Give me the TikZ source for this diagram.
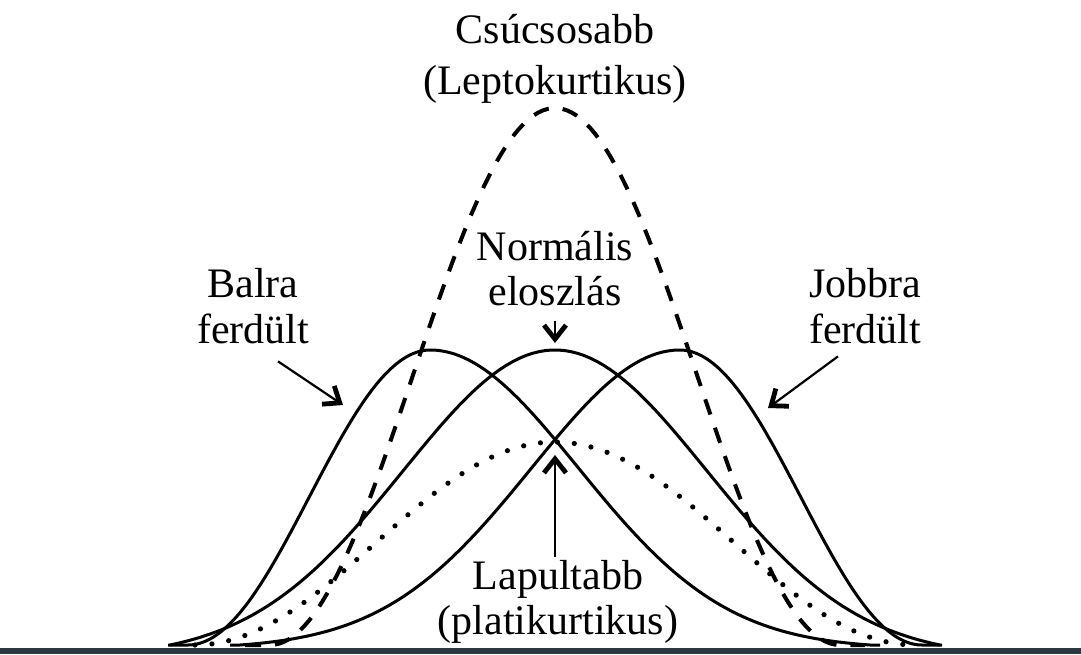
\documentclass[tikz,border=0pt]{standalone}
\usepackage{fontspec}
\setmainfont{Liberation Serif}
\usetikzlibrary{arrows.meta}
\definecolor{barcol}{RGB}{45,55,65}
\begin{document}
\begin{tikzpicture}[x=0.5pt,y=-0.5pt,
  declare function={
    cosb(\dd,\ww)=0.5*(1+cos(180*(\dd/\ww)));
    gs(\dd,\ss,\tt)=(exp(-0.5*(\dd/\ss)*(\dd/\ss))-exp(-0.5*(\tt/\ss)*(\tt/\ss)))/(1-exp(-0.5*(\tt/\ss)*(\tt/\ss)));
  },
  curve/.style={line width=1.5pt, line join=round},
  lepto/.style={line width=2pt, dash pattern=on 8pt off 7pt},
  platy/.style={line width=2.6pt, line cap=round, dash pattern=on 0pt off 8.5pt},
  lbl/.style={font=\fontsize{21}{23}\selectfont, align=center, inner sep=0pt, anchor=north},
  arr/.style={line width=1.1pt, -{Straight Barb[length=7pt,width=11pt,line width=2.4pt]}}
]
\useasboundingbox (0,0) rectangle (1081,654);
\fill[white] (0,0) rectangle (1081,654);
\fill[barcol] (0,648) rectangle (1081,654);

% curves
\draw[curve] (168,645) -- plot[domain=188:430,samples=60] (\x,{645-295*cosb(\x-430,242)})
  -- plot[domain=430:870,samples=80] (\x,{645-295*gs(\x-430,148,440)}) -- (880,645);
\draw[curve] (230,645) -- plot[domain=240:680,samples=80] (\x,{645-295*gs(\x-680,148,440)})
  -- plot[domain=680:922,samples=60] (\x,{645-295*cosb(\x-680,242)}) -- (942,645);
\draw[curve] plot[domain=170:940,samples=120] (\x,{645-295*gs(\x-555,152,385)});
\draw[lepto] (245,645) -- plot[domain=270:840,samples=120] (\x,{645-537*cosb(\x-555,285)}) -- (865,645);
\draw[platy] plot[domain=195:915,samples=120] (\x,{645-203*cosb(\x-555,360)});

% labels
\node[lbl, font=\fontsize{21}{25.5}\selectfont] (lepto) at (555,14) {Csúcsosabb\\(Leptokurtikus)};
\node[lbl, font=\fontsize{21}{22.5}\selectfont] (norm) at (555,231) {Normális\\eloszlás};
\node[lbl] (balra) at (253,268) {Balra\\ferdült};
\node[lbl] (jobbra) at (865,268) {Jobbra\\ferdült};
\node[lbl, font=\fontsize{21}{22.5}\selectfont] (lap) at (558,560) {Lapultabb\\(platikurtikus)};

% arrows
\coordinate (lsp) at (343,405);
\coordinate (rsp) at (768,408);
\coordinate (np) at (555,343);
\coordinate (pp) at (555,455);
\draw[arr] ([shift={(25,17)}]balra.south) -- (lsp);
\draw[arr] ([shift={(-27,12)}]jobbra.south) -- (rsp);
\draw[arr] ([shift={(0,15)}]norm.south) -- (np);
\draw[arr] ([shift={(-3,-3)}]lap.north) -- (pp);
\end{tikzpicture}
\end{document}
